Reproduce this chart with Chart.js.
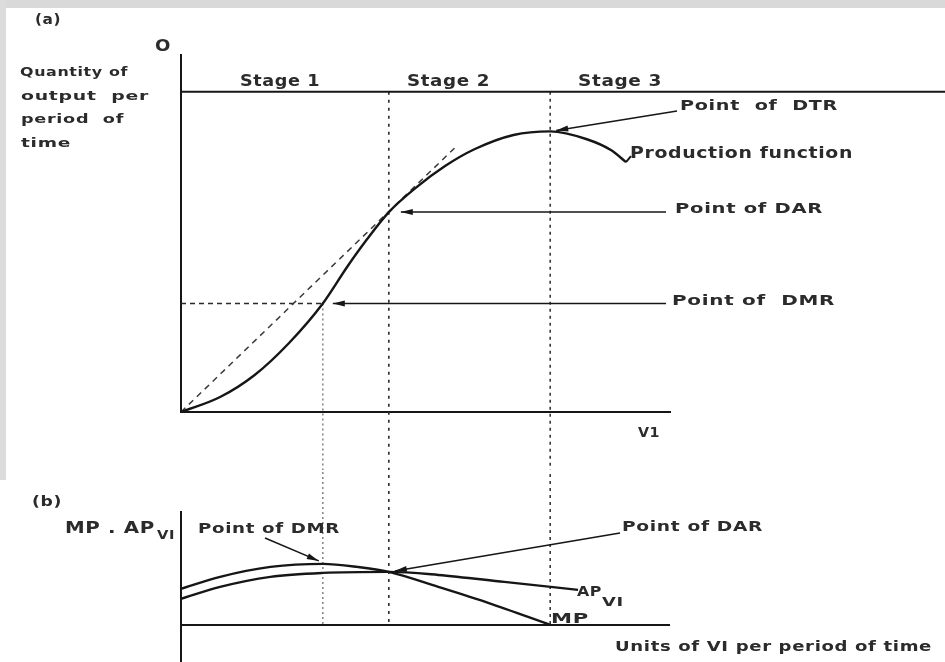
<!DOCTYPE html>
<html>
<head>
<meta charset="utf-8">
<script src="https://cdn.jsdelivr.net/npm/chart.js@4.4.1/dist/chart.umd.min.js"></script>
<style>
  html, body { margin: 0; padding: 0; background: #fff; }
  body { width: 945px; height: 662px; position: relative; overflow: hidden; }
  #frameTop { position: absolute; left: 0; top: 0; width: 945px; height: 8px; background: #d9d9d9; }
  #frameLeft { position: absolute; left: 0; top: 0; width: 6px; height: 480px; background: #dcdcdc; }
  #wrapA { position: absolute; left: 0; top: 0; width: 945px; height: 470px; }
  #wrapB { position: absolute; left: 0; top: 470px; width: 945px; height: 192px; }
</style>
</head>
<body>
<div id="frameTop"></div>
<div id="frameLeft"></div>
<div id="wrapA"><canvas id="chartA"></canvas></div>
<div id="wrapB"><canvas id="chartB"></canvas></div>
<script>
// (a) production function: units of VI vs quantity of output
const tpX = [0, 0.8, 1.5, 2.2, 2.9, 3.4, 3.8, 4.25, 4.8, 5.4, 6.0, 6.8, 7.55, 8.3, 8.8, 9.1];
const tpY = [0, 4.2, 10.3, 19.2, 30.4, 40.7, 48.3, 56, 62.8, 68.9, 73.6, 77.6, 78.6, 76.4, 73.3, 70];
// ray from origin tangent at point of DAR
const rayX = [0, 5.6];
const rayY = [0, 74];

// (b) marginal and average product
const mpX = [0, 0.8, 1.83, 2.9, 3.61, 4.25, 5.26, 6.28, 7.55];
const mpY = [3.19, 4.25, 5.13, 5.4, 5.13, 4.69, 3.36, 1.95, 0];
const apX = [0, 0.8, 1.83, 2.9, 4.25, 5.26, 6.61, 8.12];
const apY = [2.3, 3.36, 4.25, 4.6, 4.69, 4.42, 3.8, 3.1];

// key points
const DMR_X = 2.9, DAR_X = 4.25, DTR_X = 7.55;
const DMR_Q = 30.4, DAR_Q = 56, DTR_Q = 78.6;
const MP_MAX = 5.4, DAR_AP = 4.69;
const STAGE_TOP = 89.7;
const stageNames = ['Stage 1', 'Stage 2', 'Stage 3'];

const INK = '#161616';
const FONT = '"DejaVu Sans", sans-serif';

const pts = (xs, ys) => xs.map((x, i) => ({ x, y: ys[i] }));

function label(ctx, text, x, y, size, width, opts = {}) {
  ctx.save();
  ctx.font = `${opts.light ? '' : 'bold '}${size}px ${FONT}`;
  ctx.fillStyle = opts.color || '#2b2b2b';
  ctx.textBaseline = 'middle';
  ctx.textAlign = 'left';
  if ('letterSpacing' in ctx) ctx.letterSpacing = (opts.spacing ?? 0.5) + 'px';
  const w = ctx.measureText(text).width;
  ctx.translate(x, y);
  if (width) ctx.scale(width / w, 1);
  ctx.fillText(text, 0, 0);
  ctx.restore();
}

function arrow(ctx, x1, y1, x2, y2, lw = 1.5) {
  // tail (x1,y1) -> tip (x2,y2)
  ctx.save();
  ctx.strokeStyle = INK;
  ctx.fillStyle = INK;
  ctx.lineWidth = lw;
  ctx.beginPath();
  ctx.moveTo(x1, y1);
  ctx.lineTo(x2, y2);
  ctx.stroke();
  const a = Math.atan2(y2 - y1, x2 - x1);
  const len = 12, half = 3;
  ctx.beginPath();
  ctx.moveTo(x2, y2);
  ctx.lineTo(x2 - len * Math.cos(a) + half * Math.sin(a), y2 - len * Math.sin(a) - half * Math.cos(a));
  ctx.lineTo(x2 - len * Math.cos(a) - half * Math.sin(a), y2 - len * Math.sin(a) + half * Math.cos(a));
  ctx.closePath();
  ctx.fill();
  ctx.restore();
}

function guide(x, yTop, yBottom, color, dash) {
  return {
    data: [{ x, y: yTop }, { x, y: yBottom }],
    borderColor: color, borderWidth: 1.6, borderDash: dash,
    pointRadius: 0, clip: false, tension: 0
  };
}

function axisScale(extra) {
  return Object.assign({
    type: 'linear',
    ticks: { display: false },
    grid: { display: false, drawTicks: false },
    border: { display: true, color: INK, width: 2 }
  }, extra);
}

Chart.defaults.animation = false;
Chart.defaults.font.family = FONT;

const annotA = {
  id: 'annotA',
  afterDatasetsDraw(chart) {
    const { ctx, scales: { x, y } } = chart;
    label(ctx, '(a)', 35, 20, 14, 26);
    label(ctx, 'O', 155, 47, 16, 16);
    label(ctx, 'Quantity of', 20, 73, 13, 108);
    label(ctx, 'output  per', 21, 97, 13, 128);
    label(ctx, 'period  of', 21, 120, 13, 103);
    label(ctx, 'time', 21, 144, 13, 50);

    label(ctx, stageNames[0], 240, 82, 15, 80);
    label(ctx, stageNames[1], 407, 82, 15, 83);
    label(ctx, stageNames[2], 578, 82, 15, 84);

    label(ctx, 'Point  of  DTR', 680, 106, 14, 158);
    label(ctx, 'Production function', 630, 154, 15, 223);
    label(ctx, 'Point of DAR', 675, 209, 14, 148);
    label(ctx, 'Point of  DMR', 672, 301, 14, 163);
    label(ctx, 'V1', 638, 433, 14, 22);

    // pointer lines
    arrow(ctx, 677, 111, x.getPixelForValue(DTR_X) + 6, y.getPixelForValue(DTR_Q) - 1);
    arrow(ctx, 666, y.getPixelForValue(DAR_Q), x.getPixelForValue(DAR_X) + 12, y.getPixelForValue(DAR_Q));
    arrow(ctx, 666, y.getPixelForValue(DMR_Q), x.getPixelForValue(DMR_X) + 10, y.getPixelForValue(DMR_Q));

    // kink at the end of production function
    const ex = x.getPixelForValue(tpX[tpX.length - 1]);
    const ey = y.getPixelForValue(tpY[tpY.length - 1]);
    ctx.save();
    ctx.strokeStyle = INK; ctx.lineWidth = 2;
    ctx.beginPath(); ctx.moveTo(ex, ey); ctx.lineTo(ex + 5, ey - 6); ctx.stroke();
    ctx.restore();
  }
};

new Chart(document.getElementById('chartA'), {
  type: 'line',
  data: {
    datasets: [
      { data: pts(tpX, tpY), borderColor: INK, borderWidth: 2.4, pointRadius: 0, cubicInterpolationMode: 'monotone' },
      { data: pts(rayX, rayY), borderColor: '#3a3a3a', borderWidth: 1.5, borderDash: [6, 5], pointRadius: 0 },
      { data: [{ x: 0, y: DMR_Q }, { x: DMR_X, y: DMR_Q }], borderColor: '#2a2a2a', borderWidth: 1.6, borderDash: [5, 4], pointRadius: 0 },
      { data: [{ x: 0, y: STAGE_TOP }, { x: 16, y: STAGE_TOP }], borderColor: INK, borderWidth: 1.8, pointRadius: 0, clip: false },
      guide(DMR_X, DMR_Q, -17, '#8a8a8a', [2, 3]),
      guide(DAR_X, STAGE_TOP, -17, '#2a2a2a', [3, 5]),
      guide(DTR_X, STAGE_TOP, -17, '#3a3a3a', [3, 4])
    ]
  },
  options: {
    responsive: true,
    maintainAspectRatio: false,
    layout: { padding: { left: 181, right: 275, top: 55, bottom: 58 } },
    plugins: { legend: { display: false }, tooltip: { enabled: false } },
    scales: {
      x: axisScale({ min: 0, max: 10 }),
      y: axisScale({ min: 0, max: 100 })
    }
  },
  plugins: [annotA]
});

const annotB = {
  id: 'annotB',
  afterDatasetsDraw(chart) {
    const { ctx, scales: { x, y } } = chart;
    label(ctx, '(b)', 32, 32, 14, 30);
    label(ctx, 'MP . AP', 65, 59, 15, 90);
    label(ctx, 'VI', 157, 66, 13, 18);
    label(ctx, 'Point of DMR', 198, 59, 14, 142);
    label(ctx, 'Point of DAR', 622, 57, 14, 141);
    label(ctx, 'AP', 577, 122, 14, 25);
    label(ctx, 'VI', 602, 133, 12, 22);
    label(ctx, 'MP', 551, 149, 14, 38);
    label(ctx, 'Units of VI per period of time', 615, 177, 14, 317);

    arrow(ctx, 265, 68, x.getPixelForValue(DMR_X) - 4, y.getPixelForValue(MP_MAX) - 3);
    arrow(ctx, 620, 63, x.getPixelForValue(DAR_X) + 6, y.getPixelForValue(DAR_AP) - 1);
  }
};

new Chart(document.getElementById('chartB'), {
  type: 'line',
  data: {
    datasets: [
      { data: pts(mpX, mpY), borderColor: INK, borderWidth: 2.4, pointRadius: 0, cubicInterpolationMode: 'monotone' },
      { data: pts(apX, apY), borderColor: INK, borderWidth: 2.4, pointRadius: 0, cubicInterpolationMode: 'monotone' },
      guide(DMR_X, 14, 0, '#8a8a8a', [2, 3]),
      guide(DAR_X, 14, 0, '#2a2a2a', [3, 5]),
      guide(DTR_X, 14, 0, '#3a3a3a', [3, 4])
    ]
  },
  options: {
    responsive: true,
    maintainAspectRatio: false,
    layout: { padding: { left: 181, right: 275, top: 42, bottom: 0 } },
    plugins: { legend: { display: false }, tooltip: { enabled: false } },
    scales: {
      x: axisScale({ min: 0, max: 10, border: { display: false } }),
      y: axisScale({
        min: -3.3, max: 10,
        afterBuildTicks: (s) => { s.ticks = [{ value: 0 }]; },
        grid: { display: true, drawTicks: false, color: INK, lineWidth: 2 }
      })
    }
  },
  plugins: [annotB]
});
</script>
</body>
</html>
